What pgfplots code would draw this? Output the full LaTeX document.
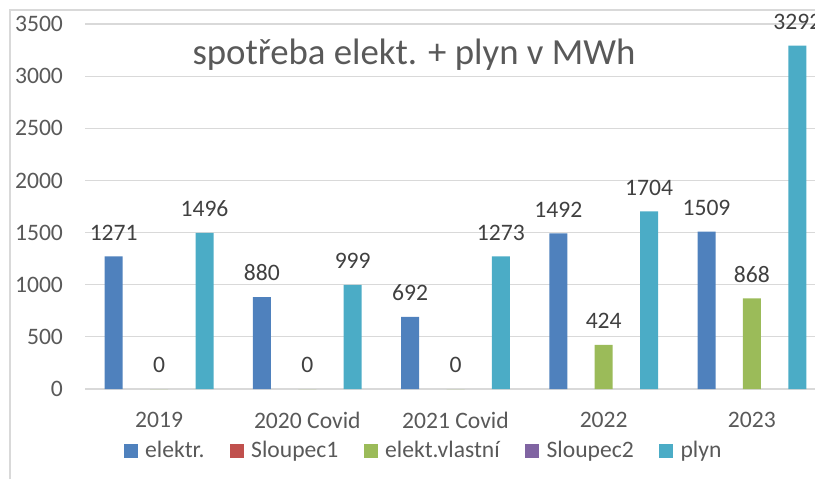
\documentclass[border=0pt]{standalone}
\usepackage{pgfplots}
\pgfplotsset{compat=1.18}
\usepackage{fontspec}
\setmainfont{Carlito}
\definecolor{cBlue}{HTML}{4F81BD}
\definecolor{cRed}{HTML}{C0504D}
\definecolor{cGreen}{HTML}{9BBB59}
\definecolor{cPurple}{HTML}{8064A2}
\definecolor{cTeal}{HTML}{4BACC6}
\definecolor{gridc}{HTML}{D9D9D9}
\definecolor{textc}{HTML}{595959}
\definecolor{labelc}{HTML}{404040}
\begin{document}
\begin{tikzpicture}
\useasboundingbox (0,0) rectangle (407.5pt,239.5pt);
\clip (0,0) rectangle (407.5pt,239.5pt);
\draw[color=gridc, line width=0.6pt] (5pt,0) -- (5pt,234.5pt) -- (407.5pt,234.5pt);
\begin{axis}[
  at={(42.5pt,45pt)}, anchor=south west,
  scale only axis, width=370.5pt, height=182.5pt,
  xmin=-0.5, xmax=4.5, ymin=0, ymax=3500,
  ytick={0,500,...,3500},
  xtick={0,1,2,3,4}, xticklabels={2019,2020 Covid,2021 Covid,2022,2023},
  ymajorgrids, grid style={color=gridc, line width=0.55pt},
  axis line style={draw=none}, major tick length=0pt,
  ybar, bar width=9pt,
  clip=false,
  tick label style={font=\fontsize{11.8}{14}\selectfont, text=textc},
  /pgf/number format/assume math mode=true,
  /pgf/number format/1000 sep={},
  yticklabel style={xshift=-7.5pt},
  xticklabel style={yshift=-8pt},
  nodes near coords,
  nodes near coords style={font=\fontsize{11.8}{14}\selectfont, text=labelc, yshift=4.5pt},
  legend columns=5,
  legend style={at={(0.4585,-0.169)}, anchor=center, draw=none, fill=none,
    font=\fontsize{11.8}{14}\selectfont, text=textc,
    /tikz/every even column/.append style={column sep=10.8pt}},
  legend image code/.code={\fill[#1] (0pt,-3.5pt) rectangle (7pt,3.5pt); \path (8.6pt,0pt);},
]
\addplot[fill=cBlue, draw=none, bar shift=-22.7pt] coordinates {(0,1271) (1,880) (2,692) (3,1492) (4,1509)};
\addlegendentry{elektr.}
\addlegendimage{fill=cRed, draw=none}
\addlegendentry{Sloupec1}
\addplot[fill=cGreen, draw=none, bar shift=0pt] coordinates {(0,0) (1,0) (2,0) (3,424) (4,868)};
\addlegendentry{elekt.vlastní}
\addlegendimage{fill=cPurple, draw=none}
\addlegendentry{Sloupec2}
\addplot[fill=cTeal, draw=none, bar shift=22.7pt] coordinates {(0,1496) (1,999) (2,1273) (3,1704) (4,3292)};
\addlegendentry{plyn}
\end{axis}
\node[anchor=base, font=\fontsize{18.4}{22}\selectfont, text=textc] at (207pt,207.3pt) {spotřeba elekt. + plyn v MWh};
\end{tikzpicture}
\end{document}
